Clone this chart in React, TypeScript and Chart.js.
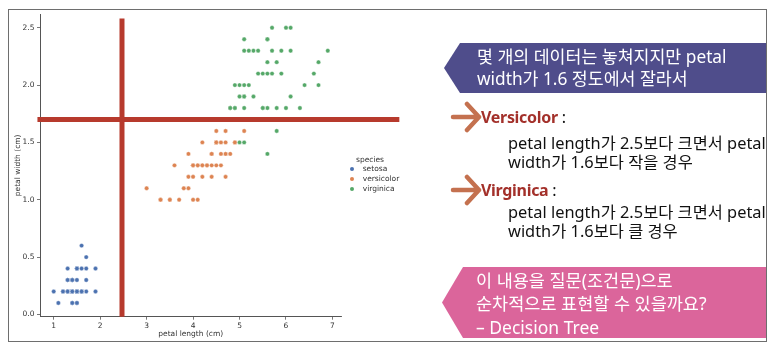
import React, { useEffect, useRef } from "react";
import { Chart, registerables } from "chart.js";

Chart.register(...registerables);

const speciesNames = ["setosa", "versicolor", "virginica"];
const speciesColors = ["#4c72b0", "#dd8452", "#55a868"];

const setosaPetalLength = [
  1.4, 1.4, 1.3, 1.5, 1.4, 1.7, 1.4, 1.5, 1.4, 1.5,
  1.5, 1.6, 1.4, 1.1, 1.2, 1.5, 1.3, 1.4, 1.7, 1.5,
  1.7, 1.5, 1.0, 1.7, 1.9, 1.6, 1.6, 1.5, 1.4, 1.6,
  1.6, 1.5, 1.5, 1.4, 1.5, 1.2, 1.3, 1.4, 1.3, 1.5,
  1.3, 1.3, 1.3, 1.6, 1.9, 1.4, 1.6, 1.4, 1.5, 1.4,
];
const setosaPetalWidth = [
  0.2, 0.2, 0.2, 0.2, 0.2, 0.4, 0.3, 0.2, 0.2, 0.1,
  0.2, 0.2, 0.1, 0.1, 0.2, 0.4, 0.4, 0.3, 0.3, 0.3,
  0.2, 0.4, 0.2, 0.5, 0.2, 0.2, 0.4, 0.2, 0.2, 0.2,
  0.2, 0.4, 0.1, 0.2, 0.2, 0.2, 0.2, 0.1, 0.2, 0.2,
  0.3, 0.3, 0.2, 0.6, 0.4, 0.3, 0.2, 0.2, 0.2, 0.2,
];
const versicolorPetalLength = [
  4.7, 4.5, 4.9, 4.0, 4.6, 4.5, 4.7, 3.3, 4.6, 3.9,
  3.5, 4.2, 4.0, 4.7, 3.6, 4.4, 4.5, 4.1, 4.5, 3.9,
  4.8, 4.0, 4.9, 4.7, 4.3, 4.4, 4.8, 5.0, 4.5, 3.5,
  3.8, 3.7, 3.9, 5.1, 4.5, 4.5, 4.7, 4.4, 4.1, 4.0,
  4.4, 4.6, 4.0, 3.3, 4.2, 4.2, 4.2, 4.3, 3.0, 4.1,
];
const versicolorPetalWidth = [
  1.4, 1.5, 1.5, 1.3, 1.5, 1.3, 1.6, 1.0, 1.3, 1.4,
  1.0, 1.5, 1.0, 1.4, 1.3, 1.4, 1.5, 1.0, 1.5, 1.1,
  1.8, 1.3, 1.5, 1.2, 1.3, 1.4, 1.4, 1.7, 1.5, 1.0,
  1.1, 1.0, 1.2, 1.6, 1.5, 1.6, 1.5, 1.3, 1.3, 1.3,
  1.2, 1.4, 1.2, 1.0, 1.3, 1.2, 1.3, 1.3, 1.1, 1.3,
];
const virginicaPetalLength = [
  6.0, 5.1, 5.9, 5.6, 5.8, 6.6, 4.5, 6.3, 5.8, 6.1,
  5.1, 5.3, 5.5, 5.0, 5.1, 5.3, 5.5, 6.7, 6.9, 5.0,
  5.7, 4.9, 6.7, 4.9, 5.7, 6.0, 4.8, 4.9, 5.6, 5.8,
  6.1, 6.4, 5.6, 5.1, 5.6, 6.1, 5.6, 5.5, 4.8, 5.4,
  5.6, 5.1, 5.1, 5.9, 5.7, 5.2, 5.0, 5.2, 5.4, 5.1,
];
const virginicaPetalWidth = [
  2.5, 1.9, 2.1, 1.8, 2.2, 2.1, 1.7, 1.8, 1.8, 2.5,
  2.0, 1.9, 2.1, 2.0, 2.4, 2.3, 1.8, 2.2, 2.3, 1.5,
  2.3, 2.0, 2.0, 1.8, 2.1, 1.8, 1.8, 1.8, 2.1, 1.6,
  1.9, 2.0, 2.2, 1.5, 1.4, 2.3, 2.4, 1.8, 1.8, 2.1,
  2.4, 2.3, 1.9, 2.3, 2.5, 2.3, 1.9, 2.0, 2.3, 1.8,
];

const xTickValues = [1, 2, 3, 4, 5, 6, 7];
const yTickValues = [0, 0.5, 1.0, 1.5, 2.0, 2.5];
const xRange = [0.705, 7.195];
const yRange = [-0.02, 2.62];

// hand-drawn split lines (data units)
const splitLength = 2.47;
const splitWidth = 1.7;
const splitLengthSpan = [-0.02, 2.58];
const splitWidthSpan = [0.65, 8.44];

const tickFont = { family: "'DejaVu Sans', sans-serif", size: 7.5 };
const textColor = "#333333";
const splitColor = "#b73a2d";
const krFont = "'Noto Sans', 'Noto Sans CJK KR', sans-serif";

function zip(xs: number[], ys: number[]) {
  return xs.map((x, i) => ({ x, y: ys[i] }));
}

function Arrow({ cy }: { cy: number }) {
  return (
    <svg
      width={34}
      height={32}
      style={{ position: "absolute", left: 450, top: cy - 16 }}
    >
      <path
        d="M3 16 H29 M17 3 L29 16 L17 29"
        stroke="#c4714f"
        strokeWidth={4.5}
        strokeLinecap="round"
        strokeLinejoin="round"
        fill="none"
      />
    </svg>
  );
}

function Line({
  left,
  cy,
  size,
  color,
  children,
  weight,
  spacing,
}: {
  left: number;
  cy: number;
  size: number;
  color: string;
  children: React.ReactNode;
  weight?: number;
  spacing?: number;
}) {
  return (
    <div
      style={{
        position: "absolute",
        left,
        top: cy - 12,
        height: 24,
        lineHeight: "24px",
        fontSize: size,
        color,
        fontFamily: krFont,
        fontWeight: weight ?? 400,
        letterSpacing: spacing ?? 0,
        whiteSpace: "nowrap",
      }}
    >
      {children}
    </div>
  );
}

export default function App() {
  const ref = useRef<HTMLCanvasElement>(null);

  useEffect(() => {
    if (!ref.current) return;
    const series = [
      { x: setosaPetalLength, y: setosaPetalWidth, order: 3 },
      { x: versicolorPetalLength, y: versicolorPetalWidth, order: 2 },
      { x: virginicaPetalLength, y: virginicaPetalWidth, order: 1 },
    ];
    const chart = new Chart(ref.current, {
      type: "scatter",
      data: {
        datasets: [
          {
            label: "split length",
            data: [
              { x: splitLength, y: splitLengthSpan[0] },
              { x: splitLength, y: splitLengthSpan[1] },
            ],
            showLine: true,
            borderColor: splitColor,
            borderWidth: 5,
            pointRadius: 0,
            clip: false,
            order: 0,
          } as any,
          {
            label: "split width",
            data: [
              { x: splitWidthSpan[0], y: splitWidth },
              { x: splitWidthSpan[1], y: splitWidth },
            ],
            showLine: true,
            borderColor: splitColor,
            borderWidth: 5,
            pointRadius: 0,
            clip: false,
            order: 0,
          } as any,
          ...series.map((s, i) => ({
            label: speciesNames[i],
            data: zip(s.x, s.y),
            backgroundColor: speciesColors[i],
            borderColor: "#ffffff",
            borderWidth: 0.4,
            pointRadius: 2.2,
            order: s.order,
          })),
        ],
      },
      options: {
        responsive: false,
        animation: false,
        devicePixelRatio: 1,
        layout: { padding: { left: 8, top: 14, right: 436.5, bottom: 8 } },
        plugins: { legend: { display: false }, tooltip: { enabled: false } },
        scales: {
          x: {
            type: "linear",
            min: xRange[0],
            max: xRange[1],
            afterFit: (s: any) => {
              s.height = 29.3;
            },
            afterBuildTicks: (s: any) => {
              s.ticks = xTickValues.map((v) => ({ value: v }));
            },
            ticks: {
              font: tickFont,
              color: textColor,
              padding: 2,
              callback: (v: any) => String(v),
            },
            grid: {
              drawOnChartArea: false,
              drawTicks: true,
              tickLength: 3,
              color: "#555555",
              lineWidth: 0.8,
            },
            border: { display: true, color: "#555555", width: 1 },
            title: {
              display: true,
              text: "petal length (cm)",
              font: tickFont,
              color: textColor,
              padding: { top: 0, bottom: 7.5 },
            },
          },
          y: {
            type: "linear",
            min: yRange[0],
            max: yRange[1],
            afterFit: (s: any) => {
              s.width = 32;
            },
            afterBuildTicks: (s: any) => {
              s.ticks = yTickValues.map((v) => ({ value: v }));
            },
            ticks: {
              font: tickFont,
              color: textColor,
              padding: 2.5,
              callback: (v: any) => Number(v).toFixed(1),
            },
            grid: {
              drawOnChartArea: false,
              drawTicks: true,
              tickLength: 3,
              color: "#555555",
              lineWidth: 0.8,
            },
            border: { display: true, color: "#555555", width: 1 },
            title: {
              display: true,
              text: "petal width (cm)",
              font: tickFont,
              color: textColor,
              padding: { top: 5.5, bottom: 0 },
            },
          },
        },
      },
    });
    return () => chart.destroy();
  }, []);

  const legendRows = [169.3, 179.3, 189.3];

  return (
    <div
      style={{
        position: "absolute",
        left: 0,
        top: 0,
        width: 778,
        height: 354,
        background: "#ffffff",
        overflow: "hidden",
      }}
    >
      <canvas
        ref={ref}
        width={778}
        height={354}
        style={{ position: "absolute", left: 0, top: 0, width: 778, height: 354 }}
      />

      {/* legend */}
      <div
        style={{
          position: "absolute",
          left: 340,
          width: 60,
          top: 155,
          lineHeight: "10px",
          textAlign: "center",
          fontFamily: "'DejaVu Sans', sans-serif",
          fontSize: 7.5,
          color: textColor,
        }}
      >
        species
      </div>
      {speciesNames.map((n, i) => (
        <React.Fragment key={n}>
          <div
            style={{
              position: "absolute",
              left: 352.3 - 2.2,
              top: legendRows[i] - 2.2,
              width: 4.4,
              height: 4.4,
              borderRadius: "50%",
              background: speciesColors[i],
            }}
          />
          <div
            style={{
              position: "absolute",
              left: 362.7,
              top: legendRows[i] - 5,
              lineHeight: "10px",
              fontFamily: "'DejaVu Sans', sans-serif",
              fontSize: 7.5,
              color: textColor,
              whiteSpace: "nowrap",
            }}
          >
            {n}
          </div>
        </React.Fragment>
      ))}

      {/* purple callout */}
      <div
        style={{
          position: "absolute",
          left: 444,
          top: 43,
          width: 767 - 444,
          height: 50,
          background: "#4f4d8b",
          clipPath: "polygon(0 50%, 16px 0, 100% 0, 100% 100%, 16px 100%)",
        }}
      />
      <Line left={477} cy={57} size={17.3} color="#ffffff">
        몇 개의 데이터는 놓쳐지지만 petal
      </Line>
      <Line left={477} cy={79} size={17.3} color="#ffffff">
        width가 1.6 정도에서 잘라서
      </Line>

      {/* versicolor */}
      <Arrow cy={117} />
      <Line left={481} cy={117} size={16} color="#111111" spacing={-0.3} weight={700}>
        <span style={{ color: "#a3302a" }}>Versicolor</span>
        <span style={{ fontWeight: 400 }}> :</span>
      </Line>
      <Line left={508} cy={143} size={16.4} color="#111111">
        petal length가 2.5보다 크면서 petal
      </Line>
      <Line left={508} cy={161.5} size={16.4} color="#111111">
        width가 1.6보다 작을 경우
      </Line>

      {/* virginica */}
      <Arrow cy={190} />
      <Line left={481} cy={190} size={16} color="#111111" spacing={-0.3} weight={700}>
        <span style={{ color: "#a3302a" }}>Virginica</span>
        <span style={{ fontWeight: 400 }}> :</span>
      </Line>
      <Line left={508} cy={212} size={16.4} color="#111111">
        petal length가 2.5보다 크면서 petal
      </Line>
      <Line left={508} cy={231} size={16.4} color="#111111">
        width가 1.6보다 클 경우
      </Line>

      {/* pink callout */}
      <div
        style={{
          position: "absolute",
          left: 442,
          top: 267,
          width: 767 - 442,
          height: 71,
          background: "#db659b",
          clipPath: "polygon(0 50%, 21px 0, 100% 0, 100% 100%, 21px 100%)",
        }}
      />
      <Line left={476} cy={280} size={17.5} color="#ffffff">
        이 내용을 질문(조건문)으로
      </Line>
      <Line left={476} cy={303} size={17.5} color="#ffffff">
        순차적으로 표현할 수 있을까요?
      </Line>
      <Line left={476} cy={327} size={17.5} color="#ffffff">
        – Decision Tree
      </Line>

      {/* slide frame */}
      <div
        style={{
          position: "absolute",
          left: 8,
          top: 9,
          width: 767 - 8,
          height: 342 - 9,
          border: "1.5px solid #6e6e6e",
          boxSizing: "border-box",
        }}
      />
    </div>
  );
}
